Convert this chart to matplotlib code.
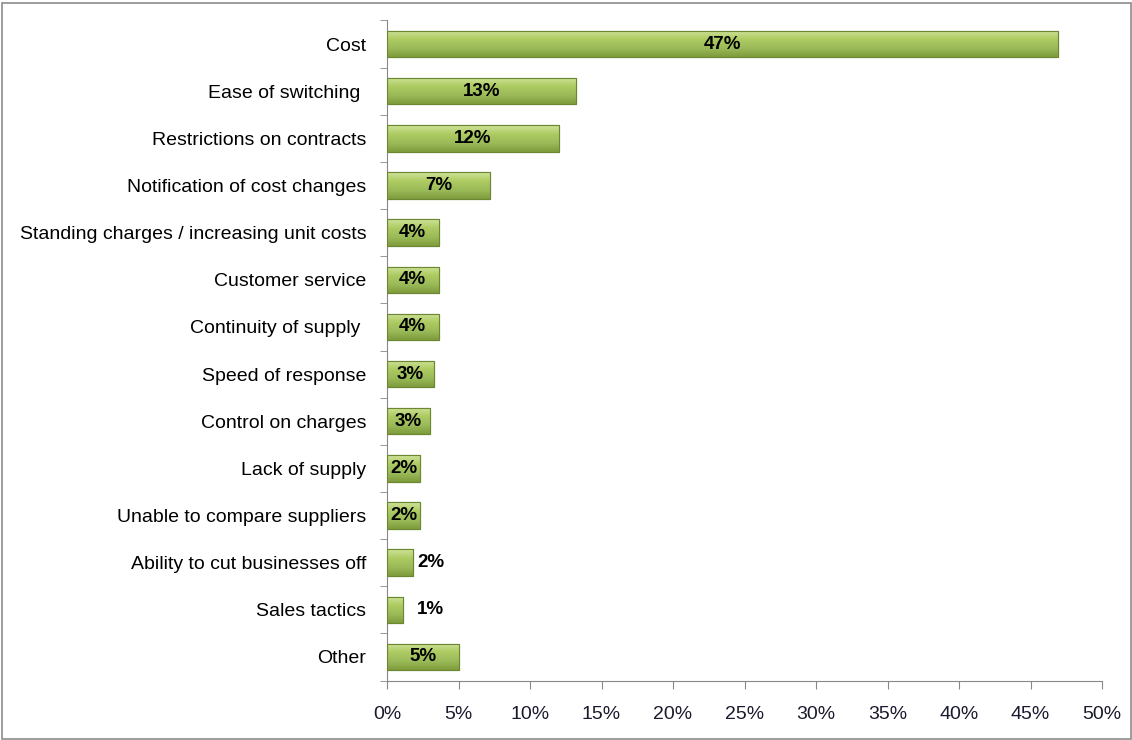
import numpy as np
import matplotlib
matplotlib.use('Agg')
import matplotlib.pyplot as plt
from matplotlib.patches import Rectangle
from matplotlib.colors import LinearSegmentedColormap

# Data (percent of respondents)
categories = ['Cost', 'Ease of switching ', 'Restrictions on contracts',
              'Notification of cost changes', 'Standing charges / increasing unit costs',
              'Customer service', 'Continuity of supply ', 'Speed of response',
              'Control on charges', 'Lack of supply', 'Unable to compare suppliers',
              'Ability to cut businesses off', 'Sales tactics', 'Other']
values = [46.9, 13.2, 12.0, 7.2, 3.6, 3.6, 3.6, 3.3, 3.0, 2.3, 2.3, 1.8, 1.1, 5.0]
labels = ['47%', '13%', '12%', '7%', '4%', '4%', '4%', '3%', '3%', '2%', '2%', '2%', '1%', '5%']
outside = ['Ability to cut businesses off', 'Sales tactics']

plt.rcParams['font.family'] = ['Liberation Sans', 'DejaVu Sans']

fig = plt.figure(figsize=(11.32, 7.4), dpi=100)
ax = fig.add_axes([0.3419, 0.0804, 0.6316, 0.8919])

y = np.arange(len(categories))
bar_h = 0.56
bars = ax.barh(y, values, height=bar_h, color='#9bbb59', edgecolor='#6b8731', linewidth=0.8, zorder=2)

# bevelled green look: vertical gradient clipped to each bar
cmap = LinearSegmentedColormap.from_list('bev', ['#cfe39a', '#aecb62', '#9bbb59', '#7f9c3c'])
grad = np.linspace(0, 1, 64).reshape(-1, 1)
for b in bars:
    x0, y0, w, h = b.get_x(), b.get_y(), b.get_width(), b.get_height()
    im = ax.imshow(grad, cmap=cmap, aspect='auto', extent=(x0, x0 + w, y0 + h, y0),
                   zorder=2.5, interpolation='bicubic')
    im.set_clip_path(b)
    ax.add_patch(Rectangle((x0, y0), w, h, fill=False, edgecolor='#6b8731', linewidth=0.8, zorder=3))

for i, (v, lab, cat) in enumerate(zip(values, labels, categories)):
    if cat in outside:
        ax.text(v + 1.0 if v < 1.5 else v + 0.3, i, lab, ha='left', va='center',
                fontsize=13.5, fontweight='bold', color='black', zorder=4)
    else:
        ax.text(v / 2, i, lab, ha='center', va='center', fontsize=13.5,
                fontweight='bold', color='black', zorder=4)

ax.set_ylim(len(categories) - 0.5, -0.5)
ax.set_xlim(0, 50)
ax.set_yticks(y)
ax.set_yticklabels(categories, fontsize=14)
ax.set_yticks(np.arange(-0.5, len(categories), 1), minor=True)
ax.tick_params(axis='y', which='major', length=0, pad=15)
ax.tick_params(axis='y', which='minor', length=5, color='#888888', direction='out')
ax.set_xticks(np.arange(0, 51, 5))
ax.set_xticklabels([f'{t}%' for t in range(0, 51, 5)], fontsize=14, color='#1a1a2e')
ax.tick_params(axis='x', length=6, color='#888888', direction='out', pad=12)

for s in ['top', 'right']:
    ax.spines[s].set_visible(False)
for s in ['left', 'bottom']:
    ax.spines[s].set_color('#888888')

# outer chart border
fig.patches.append(Rectangle((0.002, 0.001), 0.997, 0.995, transform=fig.transFigure,
                             fill=False, edgecolor='#8c8c8c', linewidth=1.2))

fig.savefig('out.png', dpi=100)
